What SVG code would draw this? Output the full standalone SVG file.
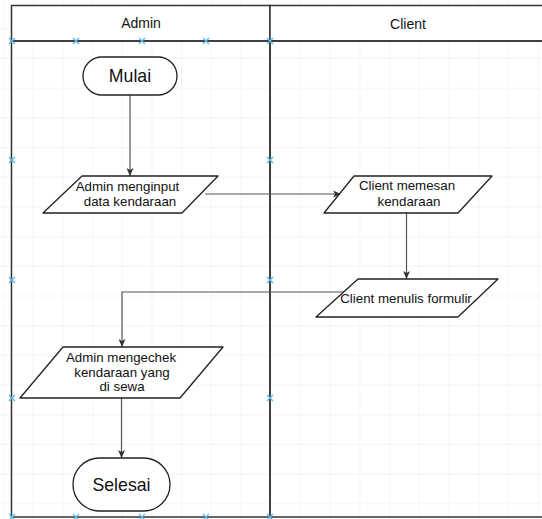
<svg xmlns="http://www.w3.org/2000/svg" width="542" height="519" viewBox="0 0 542 519">
<defs>
<pattern id="grid" x="3" y="-1.5" width="29.7" height="29.7" patternUnits="userSpaceOnUse">
<path d="M0,0 H29.7 M0,0 V29.7" fill="none" stroke="#ebebeb" stroke-width="1"/>
</pattern>
<marker id="arr" viewBox="0 0 8 7" refX="8" refY="3.5" markerWidth="8" markerHeight="7" markerUnits="userSpaceOnUse" orient="auto">
<path d="M0,0 L8,3.5 L0,7 L2,3.5 z" fill="#333"/>
</marker>
<path id="x" d="M-3,-3 L3,3 M-3,3 L3,-3" fill="none" stroke="#5bb8e8" stroke-width="1.3"/>
</defs>
<style>
.lane{fill:none;stroke:#333;stroke-width:1.5}
.hdr{fill:#fff;stroke:#333;stroke-width:1.5}
.shape{fill:#fff;stroke:#222;stroke-width:1.3;stroke-linejoin:round}
.edge{fill:none;stroke:#555;stroke-width:1.2}
.t{font-family:"Liberation Sans",Arial,sans-serif;fill:#111;text-anchor:middle}
.t13{font-size:13.3px}
.t14{font-size:14px}
.t18{font-size:17.7px}
</style>
<rect x="0" y="0" width="542" height="519" fill="#fff"/>
<rect x="0" y="0" width="542" height="519" fill="url(#grid)"/>

<g id="lanes">
<g id="lane-admin">
<rect class="hdr" x="11.5" y="5.5" width="258.5" height="35.5"/>
<rect class="lane" x="11.5" y="41" width="258.5" height="476"/>
<text class="t t14" x="141" y="28">Admin</text>
</g>
<g id="lane-client">
<rect class="hdr" x="270" y="5.5" width="280" height="35.5"/>
<rect class="lane" x="270" y="41" width="280" height="476"/>
<text class="t t14" x="408" y="28.5">Client</text>
</g>
</g>

<g id="connectors">
<line class="edge" x1="130" y1="95" x2="130" y2="176" marker-end="url(#arr)"/>
<polyline class="edge" points="205,194 341,194" marker-end="url(#arr)"/>
<line class="edge" x1="406.5" y1="213" x2="406.5" y2="279" marker-end="url(#arr)"/>
<polyline class="edge" points="344,292 122,292 122,347" marker-end="url(#arr)"/>
<line class="edge" x1="121.5" y1="398" x2="121.5" y2="458" marker-end="url(#arr)"/>
</g>

<g id="mulai">
<rect class="shape" x="83" y="57" width="94" height="38" rx="19" ry="19"/>
<text class="t t18" x="130" y="82">Mulai</text>
</g>

<g id="admin-input">
<path class="shape" d="M82,176 H218 L182,213 H43 Z"/>
<text class="t t13" x="127.5" y="191">Admin menginput</text>
<text class="t t13" x="130" y="206">data kendaraan</text>
</g>

<g id="client-memesan">
<path class="shape" d="M354,176 H492 L458,213 H324 Z"/>
<text class="t t13" x="407" y="190">Client memesan</text>
<text class="t t13" x="409" y="205.5">kendaraan</text>
</g>

<g id="client-menulis">
<path class="shape" d="M358,279 H498 L458,317 H316 Z"/>
<text class="t t13" x="406" y="303">Client menulis formulir</text>
</g>

<g id="admin-cek">
<path class="shape" d="M63,347 H223 L180,398 H20 Z"/>
<text class="t t13" x="121" y="361.5">Admin mengechek</text>
<text class="t t13" x="122" y="376.5">kendaraan yang</text>
<text class="t t13" x="122" y="391">di sewa</text>
</g>

<g id="selesai">
<rect class="shape" x="73" y="458" width="97" height="53" rx="26.5" ry="26.5"/>
<text class="t t18" x="121.5" y="490.5">Selesai</text>
</g>

<g id="markers">
<use href="#x" x="12" y="41"/>
<use href="#x" x="76" y="41"/>
<use href="#x" x="142" y="41"/>
<use href="#x" x="206" y="41"/>
<use href="#x" x="270" y="41"/>
<use href="#x" x="12" y="160"/>
<use href="#x" x="270" y="160"/>
<use href="#x" x="12" y="280"/>
<use href="#x" x="270" y="280"/>
<use href="#x" x="12" y="398"/>
<use href="#x" x="270" y="398"/>
<use href="#x" x="12" y="517"/>
<use href="#x" x="76" y="517"/>
<use href="#x" x="142" y="517"/>
<use href="#x" x="206" y="517"/>
<use href="#x" x="270" y="517"/>
</g>
</svg>
